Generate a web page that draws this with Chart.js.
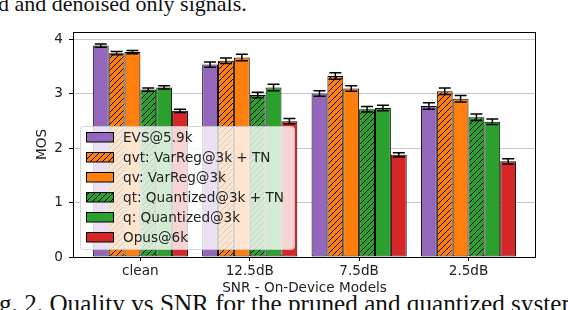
<!DOCTYPE html>
<html>
<head>
<meta charset="utf-8">
<script src="https://cdn.jsdelivr.net/npm/chart.js@4.4.0/dist/chart.umd.min.js"></script>
<style>
html, body { margin: 0; padding: 0; background: #fff; overflow: hidden; }
#wrap { position: relative; width: 568px; height: 310px; overflow: hidden; }
#chart { position: absolute; left: 0; top: 0; }
.cap { position: absolute; font-family: "Liberation Serif", "Times New Roman", serif; white-space: nowrap; color: #111; }
</style>
</head>
<body>
<div id="wrap">
  <div class="cap" style="left:-2px; top:-7px; font-size:22px; line-height:22px;">d and denoised only signals.</div>
  <div class="cap" style="left:-22px; top:292px; font-size:25.2px; line-height:24px;">Fig. 2. Quality vs SNR for the pruned and quantized systems</div>
  <canvas id="chart" width="568" height="310"></canvas>
</div>
<script>
const categories = ['clean', '12.5dB', '7.5dB', '2.5dB'];
const yTicks = [0, 1, 2, 3, 4];

const evs     = [3.89, 3.54, 3.01, 2.78];
const qvt     = [3.75, 3.61, 3.33, 3.05];
const qv      = [3.77, 3.67, 3.10, 2.91];
const qt      = [3.08, 2.98, 2.72, 2.57];
const q       = [3.12, 3.12, 2.74, 2.49];
const opus    = [2.69, 2.50, 1.88, 1.76];

const evsErr  = [0.03, 0.05, 0.05, 0.06];
const qvtErr  = [0.03, 0.05, 0.06, 0.06];
const qvErr   = [0.03, 0.06, 0.05, 0.06];
const qtErr   = [0.03, 0.05, 0.05, 0.06];
const qErr    = [0.03, 0.06, 0.05, 0.05];
const opusErr = [0.03, 0.05, 0.04, 0.05];

const FONT = 'DejaVu Sans';
const FS = 13.6;

function hatch(color) {
    const c = document.createElement('canvas');
    c.width = c.height = 6;
    const g = c.getContext('2d');
    g.fillStyle = color;
    g.fillRect(0, 0, 6, 6);
    g.strokeStyle = '#000';
    g.lineWidth = 1;
    g.beginPath();
    g.moveTo(0, 6); g.lineTo(6, 0);
    g.moveTo(-1, 1); g.lineTo(1, -1);
    g.moveTo(5, 7); g.lineTo(7, 5);
    g.stroke();
    return g.createPattern(c, 'repeat');
}

const series = [
    { label: 'EVS@5.9k', values: evs, err: evsErr, color: '#9467bd', hatched: false },
    { label: 'qvt: VarReg@3k + TN', values: qvt, err: qvtErr, color: '#ff7f0e', hatched: true },
    { label: 'qv: VarReg@3k', values: qv, err: qvErr, color: '#ff7f0e', hatched: false },
    { label: 'qt: Quantized@3k + TN', values: qt, err: qtErr, color: '#2ca02c', hatched: true },
    { label: 'q: Quantized@3k', values: q, err: qErr, color: '#2ca02c', hatched: false },
    { label: 'Opus@6k', values: opus, err: opusErr, color: '#d62728', hatched: false },
];
series.forEach(s => s.fill = s.hatched ? hatch(s.color) : s.color);

// error bars on top of each bar
const errorBars = {
    id: 'errorBars',
    afterDatasetsDraw(chart) {
        const ctx = chart.ctx;
        const yScale = chart.scales.y;
        ctx.save();
        ctx.strokeStyle = '#000';
        ctx.lineWidth = 1.5;
        chart.data.datasets.forEach((ds, i) => {
            chart.getDatasetMeta(i).data.forEach((bar, j) => {
                const v = ds.data[j].y, e = ds.err[j];
                const y1 = yScale.getPixelForValue(v + e);
                const y2 = yScale.getPixelForValue(v - e);
                ctx.beginPath();
                ctx.moveTo(bar.x, y1); ctx.lineTo(bar.x, y2);
                ctx.moveTo(bar.x - 6, y1); ctx.lineTo(bar.x + 6, y1);
                ctx.moveTo(bar.x - 6, y2); ctx.lineTo(bar.x + 6, y2);
                ctx.stroke();
            });
        });
        ctx.restore();
    }
};

// axes frame + legend inside the plot
const frameAndLegend = {
    id: 'frameAndLegend',
    afterDraw(chart) {
        const ctx = chart.ctx;
        const a = chart.chartArea;
        ctx.save();
        ctx.strokeStyle = '#000';
        ctx.lineWidth = 1;
        ctx.strokeRect(a.left + 0.5, a.top + 0.5, a.right - a.left - 1, a.bottom - a.top);

        const bx = a.left + 7, bw = 214, bh = 123, by = a.bottom - 8 - bh;
        ctx.beginPath();
        ctx.roundRect(bx + 0.5, by + 0.5, bw, bh, 3);
        ctx.fillStyle = 'rgba(255,255,255,0.8)';
        ctx.fill();
        ctx.strokeStyle = 'rgba(204,204,204,0.8)';
        ctx.stroke();

        ctx.font = FS + 'px "' + FONT + '"';
        ctx.textBaseline = 'middle';
        series.forEach((s, i) => {
            const yc = by + 11 + i * 20;
            ctx.fillStyle = s.fill;
            ctx.fillRect(bx + 6, yc - 4.5, 28, 9.5);
            ctx.strokeStyle = '#000';
            ctx.strokeRect(bx + 6.5, yc - 4.5, 27, 9.5);
            ctx.fillStyle = '#222';
            ctx.fillText(s.label, bx + 43, yc + 1);
        });
        ctx.restore();
    }
};

new Chart(document.getElementById('chart'), {
    type: 'bar',
    data: {
        datasets: series.map(s => ({
            label: s.label,
            data: s.values.map((v, j) => ({ x: j, y: v })),
            err: s.err,
            backgroundColor: s.fill,
            borderColor: '#000',
            borderWidth: 1,
            borderSkipped: false,
            categoryPercentage: 0.87,
            barPercentage: 1
        }))
    },
    options: {
        responsive: false,
        animation: false,
        layout: { padding: { left: 30, right: 32, top: 32, bottom: 13 } },
        plugins: { legend: { display: false }, tooltip: { enabled: false } },
        scales: {
            x: {
                type: 'linear',
                min: -0.616,
                max: 3.617,
                offset: false,
                afterBuildTicks: s => { s.ticks = categories.map((c, i) => ({ value: i })); },
                afterFit: s => { s.height = 40; },
                grid: { drawOnChartArea: false, drawTicks: true, tickLength: 4, tickColor: '#000', offset: false },
                border: { display: false },
                ticks: {
                    autoSkip: false,
                    maxRotation: 0,
                    padding: 2,
                    color: '#222',
                    font: { family: FONT, size: FS },
                    callback: (v, i) => categories[i]
                },
                title: {
                    display: true,
                    text: 'SNR - On-Device Models',
                    color: '#222',
                    font: { family: FONT, size: FS },
                    padding: { top: 0, bottom: 0 }
                }
            },
            y: {
                min: 0,
                max: 4.14,
                z: 1,
                afterBuildTicks: s => { s.ticks = yTicks.map(v => ({ value: v })); },
                afterFit: s => { s.width = 43; },
                grid: { color: '#c8c8c8', lineWidth: 1, tickColor: '#000', tickLength: 4 },
                border: { display: false },
                ticks: {
                    padding: 6,
                    color: '#222',
                    font: { family: FONT, size: FS }
                },
                title: {
                    display: true,
                    text: 'MOS',
                    color: '#222',
                    font: { family: FONT, size: FS },
                    padding: { top: 4, bottom: 0 }
                }
            }
        }
    },
    plugins: [errorBars, frameAndLegend]
});
</script>
</body>
</html>
